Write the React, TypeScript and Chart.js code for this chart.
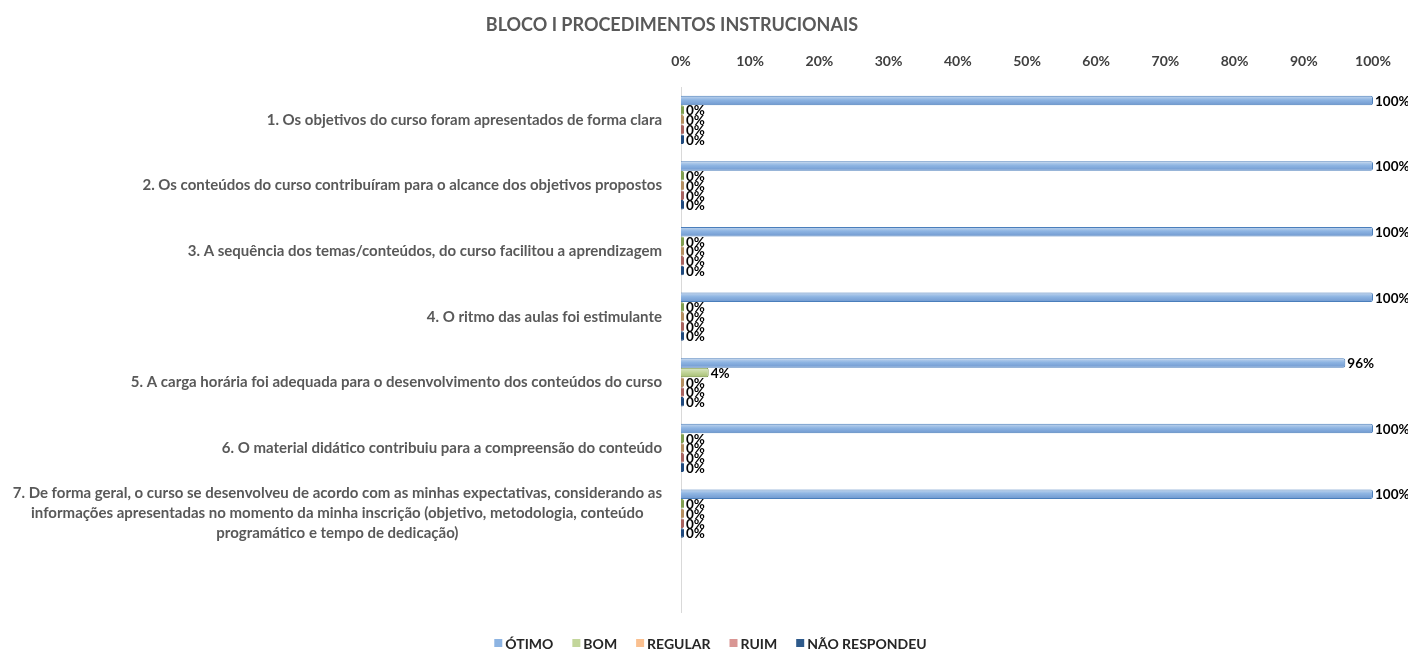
import React, { useEffect, useRef } from "react";
import { Chart, registerables } from "chart.js";

Chart.register(...registerables);

const FONT = "Lato, 'Noto Sans', sans-serif";

const TITLE = "BLOCO I PROCEDIMENTOS INSTRUCIONAIS";

const CATEGORIES: (string | string[])[] = [
  "1. Os objetivos do curso foram apresentados de forma clara",
  "2. Os conteúdos do curso contribuíram para o alcance dos objetivos propostos",
  "3. A sequência dos temas/conteúdos, do curso facilitou a aprendizagem",
  "4. O ritmo das aulas foi estimulante",
  "5. A carga horária foi adequada para o desenvolvimento dos conteúdos do curso",
  "6. O material didático contribuiu para a compreensão do conteúdo",
  [
    "7. De forma geral, o curso se desenvolveu de acordo com as minhas expectativas, considerando as",
    "informações apresentadas no momento da minha inscrição (objetivo, metodologia, conteúdo",
    "programático e tempo de dedicação)",
  ],
  "",
];

const SERIES_NAMES = ["ÓTIMO", "BOM", "REGULAR", "RUIM", "NÃO RESPONDEU"];

const OTIMO = [100, 100, 100, 100, 96, 100, 100, null];
const BOM = [0, 0, 0, 0, 4, 0, 0, null];
const REGULAR = [0, 0, 0, 0, 0, 0, 0, null];
const RUIM = [0, 0, 0, 0, 0, 0, 0, null];
const NAO_RESPONDEU = [0, 0, 0, 0, 0, 0, 0, null];

const X_MIN = 0;
const X_MAX = 100;
const X_STEP = 10;

const FILL_COLORS = ["#8DB4E2", "#C3D69B", "#FAC090", "#D99694", "#376092"];
const GRAD_TOP = ["#C4D7EE", "#DCE8C6", "#FBD3B3", "#E6B9B8", "#4F7AB0"];
const GRAD_BOTTOM = ["#6F98CF", "#A5BE72", "#E0A26E", "#C07876", "#24426B"];
const BORDER_COLORS = ["#4A7EBB", "#77933C", "#B9875A", "#A05A58", "#1F3A5F"];
const STUB_COLORS = ["#4A7EBB", "#809F50", "#B58F60", "#A8625F", "#1F497D"];
const LEGEND_COLORS = ["#8DB4E2", "#C3D69B", "#FAC090", "#D99694", "#2E5A8B"];

const gradientPlugin = {
  id: "barGradient",
  beforeDatasetsDraw(chart: any) {
    const { ctx } = chart;
    chart.data.datasets.forEach((ds: any, di: number) => {
      const meta = chart.getDatasetMeta(di);
      meta.data.forEach((el: any, i: number) => {
        if (!el.options || Object.isFrozen(el.options)) return;
        if (ds.data[i] === 0) {
          el.options.backgroundColor = STUB_COLORS[di];
          el.options.borderColor = STUB_COLORS[di];
          return;
        }
        const h = el.height || 0;
        const top = el.y - h / 2;
        const g = ctx.createLinearGradient(0, top, 0, top + h);
        g.addColorStop(0, GRAD_TOP[di]);
        g.addColorStop(0.45, FILL_COLORS[di]);
        g.addColorStop(1, GRAD_BOTTOM[di]);
        el.options.backgroundColor = g;
      });
    });
  },
};

const titlePlugin = {
  id: "customTitle",
  afterDraw(chart: any) {
    const { ctx } = chart;
    ctx.save();
    ctx.font = `bold 18px ${FONT}`;
    ctx.fillStyle = "#595959";
    ctx.textAlign = "center";
    ctx.textBaseline = "middle";
    ctx.fillText(TITLE, 664, 17);
    ctx.restore();
  },
};

const yLabelsPlugin = {
  id: "yLabels",
  afterDraw(chart: any) {
    const { ctx, chartArea } = chart;
    const y = chart.scales.y;
    ctx.save();
    ctx.font = `bold 15px ${FONT}`;
    ctx.fillStyle = "#595959";
    ctx.textBaseline = "middle";
    const right = chartArea.left - 19;
    const lh = 20;
    CATEGORIES.forEach((lab, i) => {
      const lines = Array.isArray(lab) ? lab : [lab];
      const cy = y.getPixelForValue(i);
      const maxW = Math.max(...lines.map((l) => ctx.measureText(l).width));
      lines.forEach((line, j) => {
        const ly = cy + (j - (lines.length - 1) / 2) * lh;
        if (lines.length > 1) {
          ctx.textAlign = "center";
          ctx.fillText(line, right - maxW / 2, ly);
        } else {
          ctx.textAlign = "right";
          ctx.fillText(line, right, ly);
        }
      });
    });
    ctx.restore();
  },
};

const dataLabelsPlugin = {
  id: "dataLabels",
  afterDatasetsDraw(chart: any) {
    const { ctx } = chart;
    ctx.save();
    ctx.font = `bold 13.5px ${FONT}`;
    ctx.fillStyle = "#000000";
    ctx.textAlign = "left";
    ctx.textBaseline = "middle";
    chart.data.datasets.forEach((ds: any, di: number) => {
      const meta = chart.getDatasetMeta(di);
      meta.data.forEach((el: any, i: number) => {
        const v = ds.data[i];
        if (v === null || v === undefined) return;
        ctx.fillText(`${v}%`, el.x + 2, el.y + 1);
      });
    });
    ctx.restore();
  },
};

const legendPlugin = {
  id: "customLegend",
  afterDraw(chart: any) {
    const { ctx } = chart;
    ctx.save();
    ctx.font = `bold 14px ${FONT}`;
    ctx.textBaseline = "middle";
    ctx.textAlign = "left";
    const box = 8;
    const gapBox = 3;
    const gapItem = 19;
    const widths = SERIES_NAMES.map((n) => ctx.measureText(n).width);
    const total =
      widths.reduce((a, b) => a + b, 0) +
      SERIES_NAMES.length * (box + gapBox) +
      (SERIES_NAMES.length - 1) * gapItem;
    let x = 702.5 - total / 2;
    const cy = chart.height - 15;
    SERIES_NAMES.forEach((n, i) => {
      ctx.fillStyle = LEGEND_COLORS[i];
      ctx.fillRect(x, cy - box / 2, box, box);
      x += box + gapBox;
      ctx.fillStyle = "#262626";
      ctx.fillText(n, x, cy + 1);
      x += widths[i] + gapItem;
    });
    ctx.restore();
  },
};

export default function App() {
  const canvasRef = useRef<HTMLCanvasElement | null>(null);

  useEffect(() => {
    if (!canvasRef.current) return;
    const seriesData = [OTIMO, BOM, REGULAR, RUIM, NAO_RESPONDEU];
    const chart = new Chart(canvasRef.current, {
      type: "bar",
      data: {
        labels: CATEGORIES.map((c) => (Array.isArray(c) ? c.join(" ") : c)),
        datasets: SERIES_NAMES.map((name, i) => ({
          label: name,
          data: seriesData[i],
          backgroundColor: () => FILL_COLORS[i],
          borderColor: BORDER_COLORS[i],
          borderWidth: 1,
          borderRadius: 2,
          minBarLength: 3,
          barPercentage: 0.98,
          categoryPercentage: 0.74,
        })),
      },
      options: {
        indexAxis: "y",
        animation: false,
        responsive: true,
        maintainAspectRatio: false,
        layout: { padding: { left: 0, right: 35, top: 0, bottom: 0 } },
        plugins: {
          legend: { display: false },
          title: { display: false },
          tooltip: { enabled: false },
        },
        scales: {
          x: {
            type: "linear",
            position: "top",
            min: X_MIN,
            max: X_MAX,
            ticks: {
              stepSize: X_STEP,
              callback: (v: any) => `${v}%`,
              font: { family: FONT, size: 14, weight: "bold" },
              color: "#404040",
              padding: 17,
            },
            grid: { display: false, drawTicks: false },
            border: { display: false },
            afterFit(scale: any) {
              scale.height = 79;
            },
          },
          x2: {
            type: "linear",
            position: "bottom",
            display: true,
            ticks: { display: false },
            grid: { display: false, drawTicks: false },
            border: { display: false },
            afterFit(scale: any) {
              scale.height = 46;
            },
          },
          y: {
            type: "category",
            ticks: { display: false },
            grid: { display: false, drawTicks: false },
            border: { display: true, color: "#D9D9D9", width: 1 },
            afterFit(scale: any) {
              scale.width = 673;
            },
          },
        },
      } as any,
      plugins: [gradientPlugin, titlePlugin, yLabelsPlugin, dataLabelsPlugin, legendPlugin],
    });
    return () => chart.destroy();
  }, []);

  return (
    <div style={{ position: "relative", width: 1400, height: 650 }}>
      <canvas ref={canvasRef} />
    </div>
  );
}
